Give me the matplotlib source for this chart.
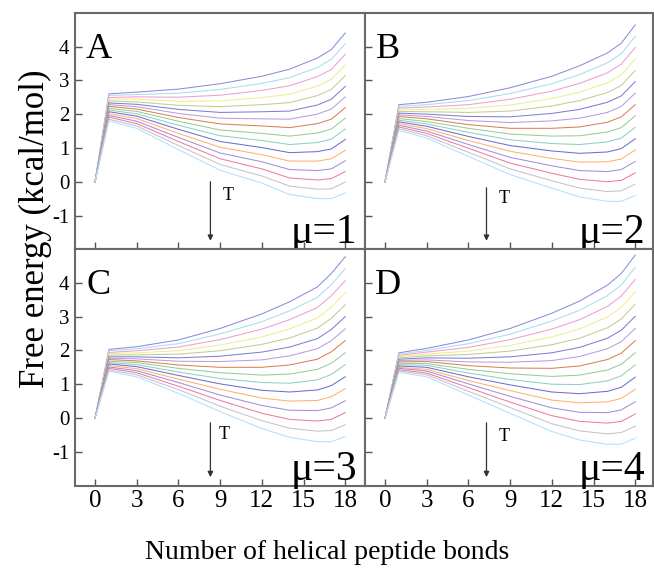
import numpy as np
import matplotlib.pyplot as plt

plt.rcParams['font.family'] = ['Liberation Serif', 'DejaVu Serif']
plt.rcParams['axes.unicode_minus'] = False

# helix length (number of helical peptide bonds) at which each curve is sampled
bonds = [0, 1, 3, 6, 9, 12, 14, 16, 17, 18]

# free energy (kcal/mol), one row per temperature, top curve first
energy_a = [
    [0, 2.60, 2.65, 2.74, 2.90, 3.12, 3.33, 3.66, 3.91, 4.40],
    [0, 2.55, 2.58, 2.62, 2.73, 2.91, 3.08, 3.38, 3.62, 4.08],
    [0, 2.49, 2.51, 2.50, 2.56, 2.70, 2.84, 3.11, 3.32, 3.77],
    [0, 2.44, 2.44, 2.38, 2.39, 2.49, 2.59, 2.83, 3.03, 3.45],
    [0, 2.39, 2.36, 2.26, 2.22, 2.28, 2.34, 2.55, 2.73, 3.14],
    [0, 2.33, 2.29, 2.14, 2.05, 2.07, 2.09, 2.27, 2.44, 2.82],
    [0, 2.28, 2.22, 2.02, 1.88, 1.86, 1.85, 2.00, 2.15, 2.51],
    [0, 2.23, 2.15, 1.90, 1.71, 1.65, 1.60, 1.72, 1.85, 2.19],
    [0, 2.17, 2.08, 1.79, 1.53, 1.43, 1.35, 1.44, 1.56, 1.88],
    [0, 2.12, 2.01, 1.67, 1.36, 1.22, 1.10, 1.16, 1.26, 1.56],
    [0, 2.07, 1.94, 1.55, 1.19, 1.01, 0.86, 0.89, 0.97, 1.25],
    [0, 2.01, 1.87, 1.43, 1.02, 0.80, 0.61, 0.61, 0.68, 0.93],
    [0, 1.96, 1.79, 1.31, 0.85, 0.59, 0.36, 0.33, 0.38, 0.62],
    [0, 1.91, 1.72, 1.19, 0.68, 0.38, 0.11, 0.05, 0.09, 0.30],
    [0, 1.85, 1.65, 1.07, 0.51, 0.17, -0.13, -0.22, -0.21, -0.01],
    [0, 1.80, 1.58, 0.95, 0.34, -0.04, -0.38, -0.50, -0.50, -0.33],
]

energy_b = [
    [0, 2.28, 2.35, 2.52, 2.78, 3.12, 3.43, 3.81, 4.10, 4.64],
    [0, 2.23, 2.28, 2.40, 2.61, 2.90, 3.17, 3.52, 3.79, 4.30],
    [0, 2.18, 2.21, 2.28, 2.44, 2.68, 2.91, 3.22, 3.48, 3.97],
    [0, 2.13, 2.14, 2.17, 2.27, 2.46, 2.65, 2.93, 3.16, 3.63],
    [0, 2.08, 2.07, 2.05, 2.09, 2.24, 2.40, 2.64, 2.85, 3.29],
    [0, 2.03, 2.00, 1.93, 1.92, 2.02, 2.14, 2.35, 2.54, 2.96],
    [0, 1.98, 1.93, 1.81, 1.75, 1.80, 1.88, 2.05, 2.23, 2.62],
    [0, 1.93, 1.86, 1.69, 1.58, 1.58, 1.62, 1.76, 1.92, 2.28],
    [0, 1.87, 1.78, 1.58, 1.41, 1.35, 1.36, 1.47, 1.60, 1.95],
    [0, 1.82, 1.71, 1.46, 1.24, 1.13, 1.10, 1.18, 1.29, 1.61],
    [0, 1.77, 1.64, 1.34, 1.07, 0.91, 0.84, 0.88, 0.98, 1.27],
    [0, 1.72, 1.57, 1.22, 0.90, 0.69, 0.58, 0.59, 0.67, 0.94],
    [0, 1.67, 1.50, 1.10, 0.72, 0.47, 0.33, 0.30, 0.36, 0.60],
    [0, 1.62, 1.43, 0.99, 0.55, 0.25, 0.07, 0.00, 0.04, 0.26],
    [0, 1.57, 1.36, 0.87, 0.38, 0.03, -0.19, -0.29, -0.27, -0.07],
    [0, 1.52, 1.29, 0.75, 0.21, -0.19, -0.45, -0.58, -0.58, -0.41],
]

energy_c = [
    [0, 2.03, 2.11, 2.31, 2.65, 3.08, 3.44, 3.88, 4.28, 4.77],
    [0, 1.99, 2.05, 2.20, 2.49, 2.85, 3.17, 3.57, 3.95, 4.42],
    [0, 1.94, 1.99, 2.10, 2.32, 2.63, 2.91, 3.27, 3.62, 4.06],
    [0, 1.90, 1.93, 1.99, 2.16, 2.40, 2.64, 2.96, 3.28, 3.71],
    [0, 1.86, 1.87, 1.89, 1.99, 2.18, 2.37, 2.66, 2.95, 3.35],
    [0, 1.81, 1.81, 1.78, 1.83, 1.95, 2.10, 2.35, 2.62, 3.00],
    [0, 1.77, 1.75, 1.68, 1.67, 1.72, 1.84, 2.05, 2.29, 2.64],
    [0, 1.73, 1.69, 1.57, 1.50, 1.50, 1.57, 1.74, 1.96, 2.29],
    [0, 1.68, 1.64, 1.47, 1.34, 1.27, 1.30, 1.44, 1.62, 1.93],
    [0, 1.64, 1.58, 1.36, 1.17, 1.05, 1.03, 1.13, 1.29, 1.58],
    [0, 1.60, 1.52, 1.26, 1.01, 0.82, 0.77, 0.83, 0.96, 1.22],
    [0, 1.55, 1.46, 1.15, 0.85, 0.59, 0.50, 0.52, 0.63, 0.87],
    [0, 1.51, 1.40, 1.05, 0.68, 0.37, 0.23, 0.22, 0.30, 0.51],
    [0, 1.47, 1.34, 0.94, 0.52, 0.14, -0.04, -0.09, -0.04, 0.16],
    [0, 1.42, 1.28, 0.84, 0.35, -0.08, -0.30, -0.39, -0.37, -0.20],
    [0, 1.38, 1.22, 0.73, 0.19, -0.31, -0.57, -0.70, -0.70, -0.55],
]

energy_d = [
    [0, 1.93, 2.06, 2.31, 2.65, 3.10, 3.46, 3.93, 4.28, 4.82],
    [0, 1.89, 2.00, 2.20, 2.48, 2.87, 3.19, 3.62, 3.94, 4.46],
    [0, 1.85, 1.95, 2.09, 2.32, 2.63, 2.91, 3.30, 3.61, 4.10],
    [0, 1.81, 1.89, 1.98, 2.15, 2.40, 2.64, 2.99, 3.27, 3.74],
    [0, 1.78, 1.84, 1.88, 1.98, 2.17, 2.36, 2.67, 2.93, 3.37],
    [0, 1.74, 1.78, 1.77, 1.81, 1.93, 2.09, 2.36, 2.60, 3.01],
    [0, 1.70, 1.72, 1.66, 1.65, 1.70, 1.82, 2.05, 2.26, 2.65],
    [0, 1.66, 1.67, 1.55, 1.48, 1.47, 1.54, 1.73, 1.92, 2.29],
    [0, 1.62, 1.61, 1.44, 1.31, 1.23, 1.27, 1.42, 1.59, 1.93],
    [0, 1.58, 1.56, 1.33, 1.14, 1.00, 0.99, 1.10, 1.25, 1.57],
    [0, 1.54, 1.50, 1.22, 0.98, 0.77, 0.72, 0.79, 0.91, 1.21],
    [0, 1.50, 1.44, 1.11, 0.81, 0.53, 0.45, 0.48, 0.58, 0.85],
    [0, 1.47, 1.39, 1.01, 0.64, 0.30, 0.17, 0.16, 0.24, 0.48],
    [0, 1.43, 1.33, 0.90, 0.47, 0.07, -0.10, -0.15, -0.10, 0.12],
    [0, 1.39, 1.28, 0.79, 0.31, -0.17, -0.38, -0.47, -0.43, -0.24],
    [0, 1.35, 1.22, 0.68, 0.14, -0.40, -0.65, -0.78, -0.77, -0.60],
]

panel_energy = [energy_a, energy_b, energy_c, energy_d]
panel_letters = ['A', 'B', 'C', 'D']
mu_values = [1, 2, 3, 4]
x_ticks = [0, 3, 6, 9, 12, 15, 18]
y_ticks = [-1, 0, 1, 2, 3, 4]

line_colors = ['#8c8cdc', '#a9dcf0', '#eea0cc', '#eeee90', '#c4cc90', '#7f7fd4',
               '#b79ee0', '#dc8050', '#98cc98', '#90d0c0', '#6e6ed0', '#ffb070',
               '#a090d8', '#ee7aa4', '#c4c4c4', '#b0e0ff']

fig = plt.figure(figsize=(6.54, 5.73), dpi=100)

# panel boxes in figure fractions: left/right column, top/bottom row
col_x = [(0.1147, 0.4434), (0.5581, 0.4404)]
row_y = [0.5649, 0.1525]
panel_h = 0.4129
x_right = [19.42, 19.28]

# (x of arrow, top of arrow, x of "T", y of "T")
arrow_spec = [(8.3, 0.0, 9.6, -0.4), (7.3, -0.18, 8.6, -0.5),
              (8.3, -0.14, 9.3, -0.5), (7.3, -0.14, 8.6, -0.55)]

for i, energy in enumerate(panel_energy):
    row, col = divmod(i, 2)
    ax = fig.add_axes([col_x[col][0], row_y[row], col_x[col][1], panel_h])

    for k, curve in enumerate(energy):
        ax.plot(bonds, curve, color=line_colors[k], lw=0.75)

    ax.set_xlim(-1.44, x_right[col])
    ax.set_ylim(-2, 5)
    ax.set_xticks(x_ticks)
    ax.set_yticks(y_ticks)
    ax.tick_params(direction='in', length=5, width=1, color='#555555')
    ax.tick_params(axis='x', labelsize=18, pad=3, labelbottom=(row == 1))
    ax.tick_params(axis='y', labelsize=15, pad=4, labelleft=(col == 0))
    for sp in ax.spines.values():
        sp.set_color('#6a6a6a')
        sp.set_linewidth(1.5)

    ax.text(0.08, 0.845, panel_letters[i], transform=ax.transAxes,
            fontsize=26, ha='center', va='center')
    ax.text(0.972, 0.025, f'\u03bc={mu_values[i]}', transform=ax.transAxes,
            fontsize=30, ha='right', va='baseline')

    ax_x, ax_top, t_x, t_y = arrow_spec[i]
    ax.annotate('', xy=(ax_x, -1.75), xytext=(ax_x, ax_top),
                arrowprops=dict(arrowstyle='-|>', color='#333333', lw=0.9,
                                mutation_scale=8, shrinkA=0, shrinkB=0))
    ax.text(t_x, t_y, 'T', fontsize=13, ha='center', va='center')

fig.text(0.055, 0.6, 'Free energy (kcal/mol)', rotation=90, fontsize=25,
         ha='center', va='center')
fig.text(0.5, 0.035, 'Number of helical peptide bonds', fontsize=20,
         ha='center', va='center')

fig.savefig('out.png', dpi=100)
